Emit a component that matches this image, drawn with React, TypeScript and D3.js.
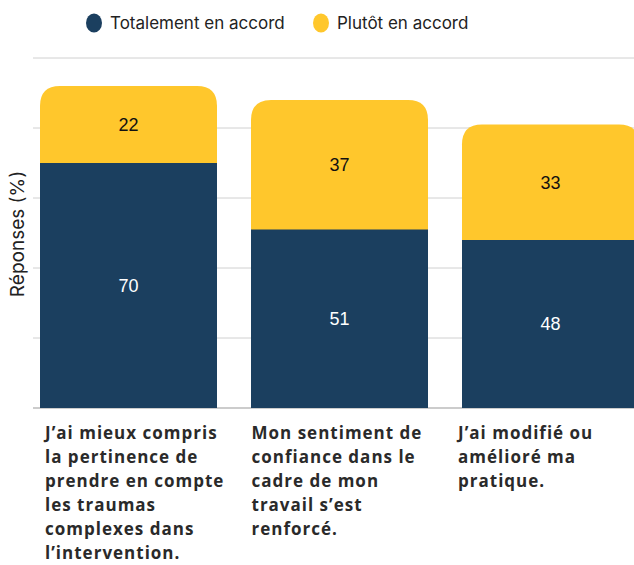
import React from "react";
import * as d3 from "d3";

const categories = ["q1", "q2", "q3"];
const categoryLines = [
  ["J\u2019ai mieux compris", "la pertinence de", "prendre en compte", "les traumas", "complexes dans", "l\u2019intervention."],
  ["Mon sentiment de", "confiance dans le", "cadre de mon", "travail s\u2019est", "renforcé."],
  ["J\u2019ai modifié ou", "amélioré ma", "pratique."],
];
const totalement = [70, 51, 48];
const plutot = [22, 37, 33];
const seriesNames = ["Totalement en accord", "Plutôt en accord"];
const colors = ["#1B3F5F", "#FFC72C"];
const yTicks = [0, 20, 40, 60, 80, 100];

const W = 634;
const H = 565;

function topRoundedRect(x: number, y: number, w: number, h: number, r: number) {
  const rr = Math.min(r, h, w / 2);
  return `M${x},${y + h} L${x},${y + rr} Q${x},${y} ${x + rr},${y} L${x + w - rr},${y} Q${x + w},${y} ${x + w},${y + rr} L${x + w},${y + h} Z`;
}

export default function App() {
  const y = d3.scaleLinear().domain([0, 100]).range([408, 58]);
  const x = d3.scaleBand<string>().domain(categories).range([40, 639]).paddingInner(34 / 211).paddingOuter(0);
  const xLabel = d3.scalePoint<string>().domain(categories).range([45, 458]);
  const bw = x.bandwidth();

  return (
    <svg width={W} height={H} style={{ position: "absolute", left: 0, top: 0, display: "block" }}>
      <rect width={W} height={H} fill="#fff" />
      {/* legend */}
      <g fontFamily="Inter, 'Noto Sans', sans-serif" fontSize={17} fill="#222">
        <ellipse cx={94} cy={23} rx={8} ry={9.5} fill={colors[0]} />
        <text x={110} y={29}>{seriesNames[0]}</text>
        <ellipse cx={321} cy={23} rx={8} ry={9.5} fill={colors[1]} />
        <text x={337} y={29}>{seriesNames[1]}</text>
      </g>
      {/* gridlines */}
      {yTicks.slice(1).map((t) => (
        <line key={t} x1={33} x2={W} y1={y(t)} y2={y(t)} stroke="#d0d0d0" strokeWidth={1} />
      ))}
      <line x1={33} x2={W} y1={y(0)} y2={y(0)} stroke="#999" strokeWidth={1} />
      {/* bars */}
      {categories.map((c, i) => {
        const x0 = x(c)!;
        const t = totalement[i];
        const p = plutot[i];
        const yTop = y(t + p);
        const yMid = y(t);
        return (
          <g key={c}>
            <path d={topRoundedRect(x0, yTop, bw, y(0) - yTop, 20)} fill={colors[1]} />
            <rect x={x0} y={yMid} width={bw} height={y(0) - yMid} fill={colors[0]} />
            <text x={x0 + bw / 2} y={(yTop + yMid) / 2} dy="0.35em" textAnchor="middle" fontFamily="'Liberation Sans', Arial, sans-serif" fontSize={18} fill="#111">{p}</text>
            <text x={x0 + bw / 2} y={(yMid + y(0)) / 2} dy="0.35em" textAnchor="middle" fontFamily="'Liberation Sans', Arial, sans-serif" fontSize={18} fill="#fff">{t}</text>
            <text fontFamily="'Open Sans', sans-serif" fontWeight={700} fontSize={17} letterSpacing={1} fill="#2a2a2a">
              {categoryLines[i].map((l, j) => (
                <tspan key={j} x={xLabel(c)!} y={439 + j * 24}>{l}</tspan>
              ))}
            </text>
          </g>
        );
      })}
      {/* y label */}
      <text transform={`translate(24,234) rotate(-90)`} textAnchor="middle" fontFamily="Inter, 'Noto Sans', sans-serif" fontSize={19} fill="#222">Réponses (%)</text>
    </svg>
  );
}
